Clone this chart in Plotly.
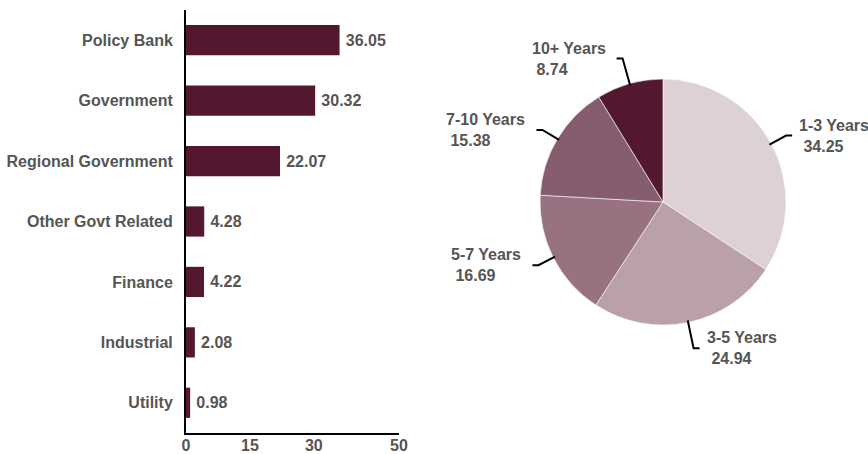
import math
import plotly.graph_objects as go

# ---- data ----
sectors = ["Policy Bank", "Government", "Regional Government", "Other Govt Related",
           "Finance", "Industrial", "Utility"]
sector_values = [36.05, 30.32, 22.07, 4.28, 4.22, 2.08, 0.98]
x_ticks = [0, 15, 30, 50]

maturities = ["1-3 Years", "3-5 Years", "5-7 Years", "7-10 Years", "10+ Years"]
maturity_values = [34.25, 24.94, 16.69, 15.38, 8.74]
maturity_colors = ["#ddd1d6", "#b9a0aa", "#987280", "#865d6e", "#53182f"]

BAR_COLOR = "#53182f"
TEXT = "#555555"
FONT = "Liberation Sans"

W, H = 868, 454


def pxx(x):
    return x / W


def pyy(y):
    return 1 - y / H


fig = go.Figure()

fig.add_trace(go.Bar(
    x=sector_values, y=sectors, orientation="h",
    marker=dict(color=BAR_COLOR, line=dict(width=0)),
    width=0.5,
    text=[f"\u2009{v:.2f}" for v in sector_values],
    textposition="outside",
    textfont=dict(family=FONT, size=16, color=TEXT, weight="bold"),
    cliponaxis=False,
    showlegend=False,
    hoverinfo="x+y",
))

# pie geometry (pixels)
cx, cy, r = 663, 202, 123
fig.add_trace(go.Pie(
    labels=maturities, values=maturity_values, sort=False,
    direction="clockwise", rotation=0,
    marker=dict(colors=maturity_colors, line=dict(color="white", width=0.6)),
    textinfo="none", showlegend=False,
    domain=dict(x=[pxx(cx - r), pxx(cx + r)], y=[pyy(cy + r), pyy(cy - r)]),
))

# leader lines and labels computed from the pie values
total = sum(maturity_values)
cum = 0.0
shapes = []
annotations = []
hseg = 6
for lab, v in zip(maturities, maturity_values):
    mid = (cum + v / 2) / total * 2 * math.pi
    cum += v
    sx, sy = math.sin(mid), -math.cos(mid)
    ext = 14 + 13 * sy * sy
    x1, y1 = cx + (r - 2) * sx, cy + (r - 2) * sy
    x2, y2 = cx + (r + ext) * sx, cy + (r + ext) * sy
    side = 1 if sx >= 0 else -1
    x3 = x2 + side * hseg
    shapes.append(dict(
        type="path", xref="paper", yref="paper",
        path=f"M {pxx(x1)} {pyy(y1)} L {pxx(x2)} {pyy(y2)} L {pxx(x3)} {pyy(y2)}",
        line=dict(color="black", width=2),
    ))
    gap = 5 if side > 0 else 9
    annotations.append(dict(
        xref="paper", yref="paper",
        x=pxx(x3 + side * gap), y=pyy(y2),
        xanchor="left" if side > 0 else "right", yanchor="middle",
        align="left", showarrow=False,
        text=f"{lab}<br>&nbsp;{v:.2f}",
        font=dict(family=FONT, size=16, color=TEXT, weight="bold"),
    ))

fig.update_layout(
    width=W, height=H,
    margin=dict(l=0, r=0, t=0, b=0, autoexpand=False),
    paper_bgcolor="white", plot_bgcolor="white",
    shapes=shapes, annotations=annotations,
    xaxis=dict(
        domain=[pxx(186), pxx(399)], range=[0, 50],
        tickvals=x_ticks, showgrid=False, zeroline=False,
        showline=True, linecolor="black", linewidth=2, ticks="",
        ticklabelstandoff=-3,
        tickfont=dict(family=FONT, size=16, color=TEXT, weight="bold"),
        automargin=False, fixedrange=True,
    ),
    yaxis=dict(
        domain=[pyy(433), pyy(10)], range=[len(sectors) - 0.5, -0.5],
        showgrid=False, zeroline=False,
        showline=True, linecolor="black", linewidth=2, ticks="",
        ticklabelstandoff=8,
        tickfont=dict(family=FONT, size=16, color=TEXT, weight="bold"),
        automargin=False, fixedrange=True,
    ),
    bargap=0.5,
)

fig.write_html("out.html")
